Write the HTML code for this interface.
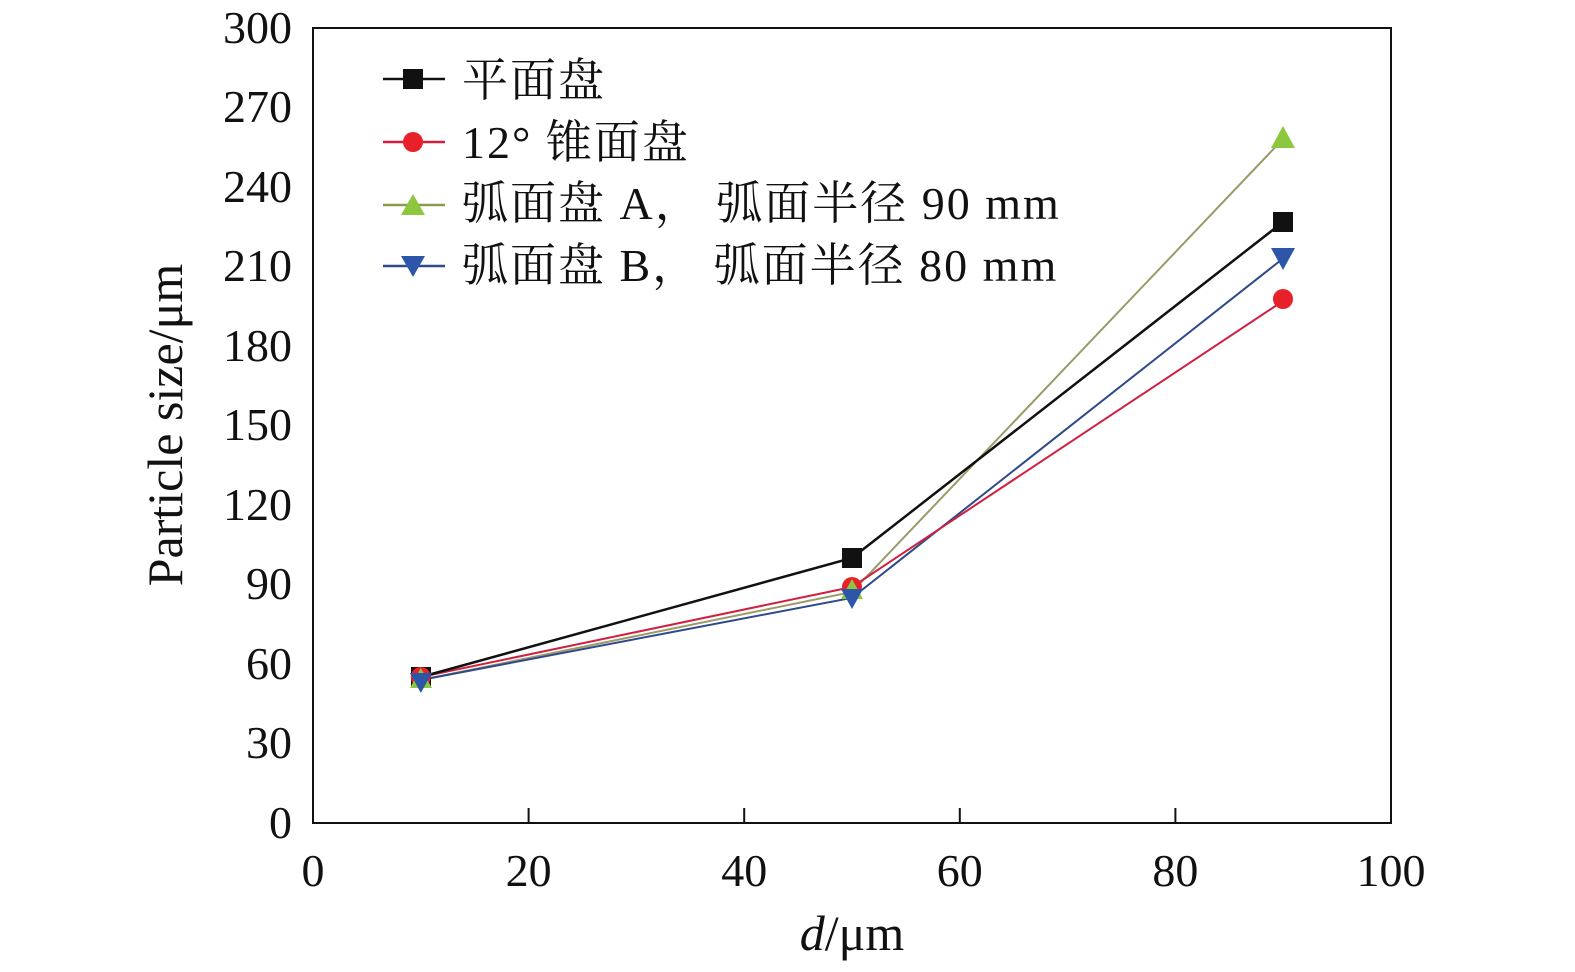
<!DOCTYPE html>
<html><head><meta charset="utf-8"><style>
html,body{margin:0;padding:0;background:#fff;}
svg text{font-family:"Liberation Serif","Noto Serif CJK SC",serif;fill:#111;}
</style></head><body>
<svg width="1575" height="967" viewBox="0 0 1575 967" xmlns="http://www.w3.org/2000/svg">
<rect x="313" y="28" width="1078" height="795" fill="none" stroke="#111" stroke-width="2"/>
<g stroke="#111" stroke-width="2">
<line x1="528.6" y1="823" x2="528.6" y2="808"/>
<line x1="744.2" y1="823" x2="744.2" y2="808"/>
<line x1="959.8" y1="823" x2="959.8" y2="808"/>
<line x1="1175.4" y1="823" x2="1175.4" y2="808"/>
</g>
<g font-size="46" text-anchor="end">
<text x="292" y="838">0</text>
<text x="292" y="758">30</text>
<text x="292" y="679">60</text>
<text x="292" y="599">90</text>
<text x="292" y="520">120</text>
<text x="292" y="440">150</text>
<text x="292" y="361">180</text>
<text x="292" y="281">210</text>
<text x="292" y="202">240</text>
<text x="292" y="122">270</text>
<text x="292" y="43">300</text>
</g>
<g font-size="46" text-anchor="middle">
<text x="313" y="886">0</text>
<text x="528.6" y="886">20</text>
<text x="744.2" y="886">40</text>
<text x="959.8" y="886">60</text>
<text x="1175.4" y="886">80</text>
<text x="1391" y="886">100</text>
</g>
<g font-size="50" text-anchor="middle">
<text x="852" y="950"><tspan font-style="italic">d</tspan>/μm</text>
<text transform="translate(182,425) rotate(-90)">Particle size/μm</text>
</g>
<polyline points="420.8,680 852,592 1283,139" fill="none" stroke="#9a9a6a" stroke-width="2"/>
<polyline points="420.8,680 852,597.8 1283,258.5" fill="none" stroke="#2e4a8a" stroke-width="2"/>
<polyline points="420.8,677 852,587 1283,301" fill="none" stroke="#d02040" stroke-width="2"/>
<polyline points="420.8,677 852,558 1283,222" fill="none" stroke="#111" stroke-width="2.5"/>
<g fill="#111"><rect x="411" y="667" width="20" height="20"/><rect x="842" y="548" width="20" height="20"/><rect x="1273" y="212" width="20" height="20"/></g>
<g fill="#e8202a"><circle cx="420.8" cy="677" r="10"/><circle cx="852" cy="587" r="10"/><circle cx="1283" cy="299" r="10"/></g>
<g fill="#8dc63f"><polygon points="420.8,668 432,688 410,688"/><polygon points="852,579 863,599 841,599"/><polygon points="1283,126 1295,148 1271,148"/></g>
<g fill="#2e56a8"><polygon points="410,673 432,673 420.8,693"/><polygon points="841,589 863,589 852,609"/><polygon points="1271,248 1295,248 1283,270"/></g>
<g stroke-width="2.5">
<line x1="383" y1="79" x2="445" y2="79" stroke="#111"/>
<line x1="383" y1="142" x2="445" y2="142" stroke="#d02040"/>
<line x1="383" y1="205" x2="445" y2="205" stroke="#8a9a4a"/>
<line x1="383" y1="266" x2="445" y2="266" stroke="#2e4a8a"/>
</g>
<rect x="403" y="69" width="20" height="20" fill="#111"/>
<circle cx="413" cy="142" r="10" fill="#e8202a"/>
<polygon points="413,194 425,215 401,215" fill="#8dc63f"/>
<polygon points="401,256 425,256 413,277" fill="#2e56a8"/>
<g font-size="46" letter-spacing="2">
<text x="462" y="96">平面盘</text>
<text x="462" y="158">12° 锥面盘</text>
<text x="462" y="219" xml:space="preserve">弧面盘 A， 弧面半径 90 mm</text>
<text x="462" y="281" xml:space="preserve">弧面盘 B， 弧面半径 80 mm</text>
</g>
</svg>
</body></html>
